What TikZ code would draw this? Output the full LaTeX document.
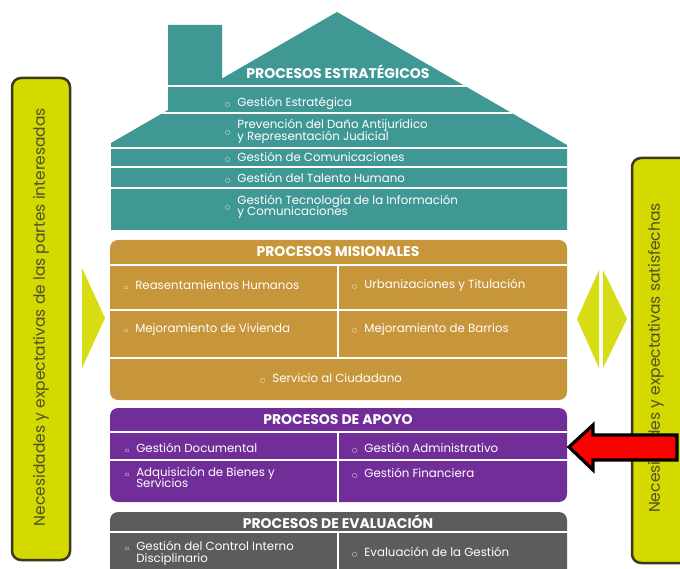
\documentclass[tikz,border=0pt]{standalone}
\usepackage{fontspec}
\setmainfont{Poppins}
\newfontfamily\symf{DejaVu Sans}
\definecolor{tealh}{RGB}{64,152,149}
\definecolor{goldm}{RGB}{199,149,58}
\definecolor{purpa}{RGB}{114,46,152}
\definecolor{greye}{RGB}{92,92,92}
\definecolor{yelbox}{RGB}{212,217,0}
\definecolor{yelarr}{RGB}{216,220,20}
\definecolor{olived}{RGB}{60,58,30}
\definecolor{olivet}{RGB}{80,80,40}
\newcommand{\bl}{{\symf\fontsize{6}{6}\selectfont ○}\hspace{7pt}}
\newcommand{\bq}{{\symf\fontsize{6}{6}\selectfont ▫}\hspace{7pt}}
\tikzset{
  item/.style={anchor=west, text=white, font=\fontsize{11.8}{12}\selectfont, inner sep=0pt},
  ttl/.style={text=white, font=\fontsize{14}{14}\selectfont\bfseries, inner sep=0pt},
  sepline/.style={white, line width=1.3pt},
  sidebox/.style={fill=yelbox, draw=olived, line width=2.5pt, rounded corners=9pt},
  sidetext/.style={rotate=90, text=olivet, font=\fontsize{15.5}{16}\selectfont, inner sep=0pt},
  yarrow/.style={fill=yelarr},
}
\begin{document}
\begin{tikzpicture}[x=1pt,y=-1pt]
\useasboundingbox (0,0) rectangle (680,569);
\fill[white] (0,0) rectangle (680,569);

% side boxes
\draw[sidebox] (12,78) rectangle (70,560);
\node[sidetext] (leftt) at (41,317) {Necesidades y expectativas de las partes interesadas};
\draw[sidebox] (632,158) rectangle (694,563);
\node[sidetext] (rightt) at (656,358) {Necesidades y expectativas satisfechas};

% yellow arrows
\fill[yarrow] (82,268) -- (105,318) -- (82,368) -- cycle;
\fill[yarrow] (577,319) -- (599,270) -- (599,368) -- cycle;
\fill[yarrow] (603,270) -- (627,319) -- (603,368) -- cycle;

% house
\def\house{(111,143) -- (168,110) -- (168,25) -- (222,25) -- (222,78.5) -- (337,12) -- (567,145) -- (567,230) -- (111,230) -- cycle}
\fill[tealh] \house;
\begin{scope}
  \clip \house;
  \foreach \yy in {86,113,148,167,188} \draw[sepline] (100,\yy) -- (580,\yy);
\end{scope}
\node[ttl] (est) at (338,72) {PROCESOS ESTRATÉGICOS};
\node[item] (e1) at (225,103) {\bl Gestión Estratégica};
\node[item] (e2) at (225,131.5) {\bl\begin{tabular}{@{}l@{}}Prevención del Daño Antijurídico\\[-1.5pt] y Representación Judicial\end{tabular}};
\node[item] (e3) at (225,157.5) {\bl Gestión de Comunicaciones};
\node[item] (e4) at (225,178) {\bl Gestión del Talento Humano};
\node[item] (e5) at (225,207) {\bl\begin{tabular}{@{}l@{}}Gestión Tecnología de la Información\\[-1.5pt] y Comunicaciones\end{tabular}};

% misionales
\fill[goldm, rounded corners=8pt] (110,240) rectangle (567,400);
\foreach \yy in {265,310,358} \draw[sepline] (110,\yy) -- (567,\yy);
\draw[sepline] (338,265) -- (338,358);
\node[ttl] (mis) at (338,252) {PROCESOS MISIONALES};
\node[item] (m1) at (124,285) {\bq Reasentamientos Humanos};
\node[item] (m2) at (352,285) {\bl Urbanizaciones y Titulación};
\node[item] (m3) at (124,330) {\bq Mejoramiento de Vivienda};
\node[item] (m4) at (352,330) {\bl Mejoramiento de Barrios};
\node[item, anchor=center] (m5) at (331,378) {\bl Servicio al Ciudadano};

% apoyo
\fill[purpa, rounded corners=8pt] (110,408) rectangle (567,502);
\foreach \yy in {432,460} \draw[sepline] (110,\yy) -- (567,\yy);
\draw[sepline] (338,432) -- (338,502);
\node[ttl] (apo) at (338,420) {PROCESOS DE APOYO};
\node[item] (a1) at (125,448) {\bq Gestión Documental};
\node[item] (a2) at (352,448) {\bl Gestión Administrativo};
\node[item, anchor=base west] (a3) at (125,476) {\bq\begin{tabular}[t]{@{}l@{}}Adquisición de Bienes y\\[-1pt] Servicios\end{tabular}};
\node[item] (a4) at (352,473) {\bl Gestión Financiera};

% evaluacion
\fill[greye, rounded corners=8pt] (110,512) rectangle (567,600);
\draw[sepline] (110,532) -- (567,532);
\draw[sepline] (338,532) -- (338,569);
\node[ttl] (eva) at (338,522) {PROCESOS DE EVALUACIÓN};
\node[item, anchor=base west] (v1) at (125,550.5) {\bq\begin{tabular}[t]{@{}l@{}}Gestión del Control Interno\\[-1pt] Disciplinario\end{tabular}};
\node[item] (v2) at (352,552) {\bl Evaluación de la Gestión};

% red arrow
\draw[fill=red, draw=black, line width=3.2pt, line join=miter]
  (569,447) -- (593,425) -- (593,435) -- (677,435) -- (677,460) -- (593,460) -- (593,470) -- cycle;
\end{tikzpicture}
\end{document}
